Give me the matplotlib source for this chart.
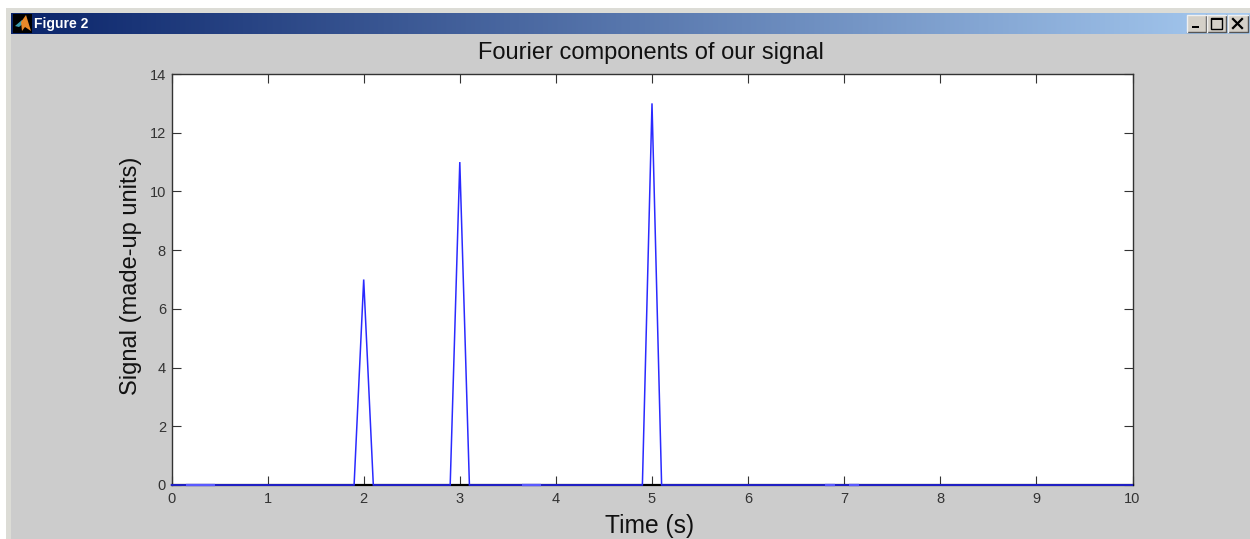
import numpy as np
import matplotlib
matplotlib.use("Agg")
import matplotlib.pyplot as plt
from matplotlib.patches import Rectangle, Polygon

# ---- data ----
peak_times = [2, 3, 5]
peak_heights = [7, 11, 13]
time_start = 0
time_end = 10
peak_half_width = 0.1
gap_segments = [(0.15, 0.45), (3.65, 3.85), (6.8, 6.9), (7.05, 7.15)]
x_ticks = [0, 1, 2, 3, 4, 5, 6, 7, 8, 9, 10]
y_ticks = [0, 2, 4, 6, 8, 10, 12, 14]
title_text = "Fourier components of our signal"
xlabel_text = "Time (s)"
ylabel_text = "Signal (made-up units)"
window_text = "Figure 2"

W, H = 1250, 539
plt.rcParams["font.family"] = ["Liberation Sans", "DejaVu Sans"]
BG = "#cccccc"
fig = plt.figure(figsize=(W / 100, H / 100), dpi=100, facecolor=BG)

# window chrome, in pixel coordinates
ch = fig.add_axes([0, 0, 1, 1], zorder=0)
ch.set_xlim(0, W)
ch.set_ylim(H, 0)
ch.axis("off")
ch.add_patch(Rectangle((0, 0), W, 8, fc="white", ec="none"))
ch.add_patch(Rectangle((0, 0), 6, H, fc="white", ec="none"))
ch.add_patch(Rectangle((6, 8), W, 5, fc="#dcdcd6", ec="none"))
ch.add_patch(Rectangle((6, 8), 5, H, fc="#dcdcd6", ec="none"))
grad = np.linspace(0, 1, 512)[None, :]
cmap = matplotlib.colors.LinearSegmentedColormap.from_list("tb", ["#0a246a", "#a6caf0"])
ch.imshow(grad, extent=(11, 1250, 34, 13), aspect="auto", cmap=cmap, zorder=1)
ch.set_xlim(0, W)
ch.set_ylim(H, 0)
ch.add_patch(Rectangle((13, 14), 19, 19, fc="black", ec="none", zorder=2))
ch.add_patch(Polygon([(15, 26), (22, 20), (25, 22), (19, 27)], fc="#3d9db0", ec="none", zorder=3))
ch.add_patch(Polygon([(21, 22), (26, 15), (31, 31), (25, 27), (22, 31)], fc="#e8882a", ec="none", zorder=3))
ch.text(34, 24, window_text, color="white", fontsize=10, fontweight="bold",
        va="center", ha="left", zorder=3)
for bx, bw, kind in [(1187, 19, "min"), (1207, 19, "max"), (1228, 20, "x")]:
    ch.add_patch(Rectangle((bx, 15), bw, 17, fc="#d4d0c8", ec="none", zorder=2))
    ch.plot([bx, bx + bw, bx + bw], [32, 32, 15], color="#555555", lw=1, zorder=3)
    ch.plot([bx, bx, bx + bw], [32, 15, 15], color="#f0f0f0", lw=1, zorder=3)
    if kind == "min":
        ch.add_patch(Rectangle((bx + 5, 26), 7, 2, fc="black", ec="none", zorder=3))
    elif kind == "max":
        ch.add_patch(Rectangle((bx + 4, 18), 11, 11, fc="none", ec="black", lw=1, zorder=3))
        ch.add_patch(Rectangle((bx + 4, 18), 11, 2, fc="black", ec="none", zorder=3))
    else:
        ch.plot([bx + 5, bx + 14], [19, 28], color="black", lw=1.6, zorder=3)
        ch.plot([bx + 5, bx + 14], [28, 19], color="black", lw=1.6, zorder=3)

# the plot
left, right, top, bottom = 171.5, 1132.5, 74, 485
ax = fig.add_axes([left / W, 1 - bottom / H, (right - left) / W, (bottom - top) / H],
                  facecolor="white", zorder=2)

xs = [time_start]
ys = [0]
for t, h in zip(peak_times, peak_heights):
    xs += [t - peak_half_width, t, t + peak_half_width]
    ys += [0, h, 0]
xs.append(time_end)
ys.append(0)
ax.plot(xs, ys, color="#2a2aff", lw=1.1, clip_on=False, zorder=4, solid_joinstyle="miter")

# stretches where the baseline reads as a pale blue line with no dark axis under it
for a, b in gap_segments:
    ax.plot([a, b], [0, 0], color="#5a5aff", lw=1.7, clip_on=False, zorder=7, solid_capstyle="butt")

ax.set_xlim(0, 10)
ax.set_ylim(0, 14)
ax.set_xticks(x_ticks)
ax.set_yticks(y_ticks)
ax.tick_params(direction="in", top=True, right=True, length=6.5, width=0.8,
               labelsize=10.5, colors="#333333")
ax.tick_params(axis="x", pad=5)
ax.tick_params(axis="y", pad=4)
for s in ax.spines.values():
    s.set_linewidth(1.0)
    s.set_color("#333333")
    s.set_zorder(3)
ax.spines["bottom"].set_color("black")
ax.spines["bottom"].set_linewidth(1.6)
fig.text(651 / W, 1 - 53.5 / H, title_text, fontsize=17, ha="center", va="center", color="#111111", zorder=5)
fig.text(650 / W, 1 - 525.5 / H, xlabel_text, fontsize=17.7, ha="center", va="center", color="#111111", zorder=5)
fig.text(131 / W, 1 - 276 / H, ylabel_text, fontsize=17, rotation=90, ha="center", va="center", color="#111111", zorder=5)

fig.savefig("out.png", dpi=100, facecolor=BG)
